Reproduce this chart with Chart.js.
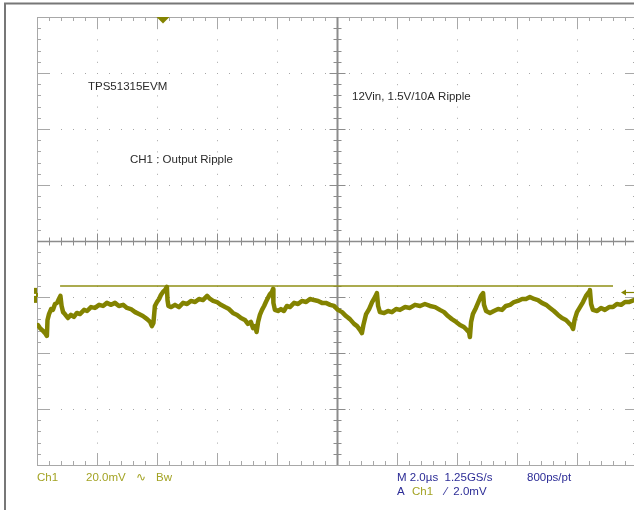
<!DOCTYPE html>
<html>
<head>
<meta charset="utf-8">
<title>TPS51315EVM output ripple</title>
<script src="https://cdn.jsdelivr.net/npm/chart.js@4/dist/chart.umd.min.js"></script>
<style>
  body { margin: 0; background: #fff; }
  #wrap { width: 634px; height: 510px; overflow: hidden; }
</style>
</head>
<body>
<div id="wrap"><canvas id="scope" width="634" height="510"></canvas></div>
<script>
// horizontal: 2.0 us/div, vertical: 20.0 mV/div, 10 x 8 divisions
const timeDivs = [0, 2, 4, 6, 8, 10, 12, 14, 16, 18, 20];
const voltDivs = [-80, -60, -40, -20, 0, 20, 40, 60, 80];

// CH1 output ripple (time in us, level in mV)
const timeUs = [
  0.03, 0.10, 0.20, 0.27, 0.33, 0.35, 0.40, 0.47, 0.53, 0.60, 0.67, 0.73, 0.78, 0.82, 0.87, 0.93,
  1.03, 1.13, 1.23, 1.33, 1.43, 1.57, 1.67, 1.80, 1.93, 2.07, 2.20, 2.33, 2.47, 2.60, 2.73, 2.87,
  3.00, 3.13, 3.27, 3.40, 3.53, 3.67, 3.77, 3.83, 3.88, 3.93, 4.00, 4.07, 4.13, 4.20, 4.27, 4.33,
  4.35, 4.38, 4.47, 4.60, 4.73, 4.87, 5.00, 5.13, 5.27, 5.40, 5.53, 5.67, 5.77, 5.87, 6.00, 6.13,
  6.27, 6.40, 6.53, 6.67, 6.80, 6.93, 7.03, 7.13, 7.20, 7.27, 7.32, 7.37, 7.43, 7.50, 7.57, 7.63,
  7.70, 7.77, 7.83, 7.87, 7.88, 7.93, 8.03, 8.13, 8.23, 8.33, 8.43, 8.57, 8.70, 8.83, 8.97, 9.10,
  9.23, 9.37, 9.50, 9.63, 9.77, 9.90, 10.03, 10.17, 10.30, 10.43, 10.57, 10.67, 10.77, 10.83, 10.88, 10.97,
  11.07, 11.17, 11.27, 11.33, 11.37, 11.43, 11.57, 11.70, 11.83, 11.97, 12.10, 12.27, 12.43, 12.60, 12.77, 12.93,
  13.10, 13.27, 13.43, 13.57, 13.70, 13.83, 13.97, 14.10, 14.23, 14.33, 14.40, 14.43, 14.47, 14.53, 14.63, 14.73,
  14.80, 14.87, 14.90, 14.97, 15.10, 15.23, 15.37, 15.50, 15.63, 15.77, 15.90, 16.03, 16.17, 16.30, 16.43, 16.57,
  16.70, 16.83, 16.97, 17.10, 17.23, 17.37, 17.50, 17.63, 17.73, 17.80, 17.87, 17.92, 18.00, 18.10, 18.20, 18.30,
  18.40, 18.43, 18.47, 18.53, 18.67, 18.80, 18.93, 19.07, 19.20, 19.33, 19.47, 19.60, 19.73, 19.90
];
const rippleMv = [
  -30.0, -31.1, -32.1, -32.9, -33.9, -28.2, -26.1, -24.3, -24.6, -22.5, -22.1, -20.7, -19.6, -23.2, -25.4, -26.1,
  -27.5, -26.4, -27.1, -25.7, -26.1, -24.6, -25.0, -23.6, -23.9, -22.8, -23.2, -22.1, -22.8, -22.1, -23.2, -22.8,
  -23.9, -24.3, -25.4, -26.1, -26.8, -27.9, -28.9, -30.4, -29.3, -23.2, -21.8, -20.7, -19.3, -18.2, -17.5, -16.4,
  -21.1, -23.2, -23.6, -22.8, -23.6, -22.1, -22.5, -21.4, -21.8, -20.7, -21.1, -19.6, -20.7, -21.4, -21.8, -22.8,
  -23.6, -24.3, -25.7, -26.4, -27.5, -28.2, -29.6, -28.9, -31.1, -30.4, -32.5, -28.9, -26.4, -24.6, -23.2, -21.8,
  -20.3, -18.9, -18.2, -17.1, -22.1, -24.6, -25.0, -24.3, -25.0, -23.2, -23.6, -22.1, -22.5, -21.4, -21.8, -20.7,
  -21.1, -21.4, -22.1, -22.1, -22.8, -23.2, -24.6, -25.4, -26.8, -27.9, -29.6, -30.4, -31.8, -32.9, -30.0, -26.1,
  -24.3, -21.8, -20.0, -18.6, -23.2, -25.4, -25.7, -25.0, -25.4, -24.3, -24.6, -23.6, -23.9, -22.8, -23.2, -22.5,
  -23.2, -23.6, -24.6, -25.4, -26.8, -27.9, -28.9, -30.0, -30.7, -31.8, -32.5, -34.3, -28.9, -26.1, -23.9, -21.4,
  -19.6, -18.6, -22.8, -25.0, -25.7, -25.0, -24.3, -24.6, -23.2, -22.8, -21.8, -21.4, -20.7, -20.7, -20.0, -20.7,
  -21.1, -22.1, -22.8, -23.9, -25.0, -26.4, -27.5, -28.2, -29.3, -30.0, -31.4, -28.2, -25.4, -23.6, -21.8, -19.6,
  -18.2, -17.5, -22.5, -24.6, -25.0, -23.9, -24.6, -23.6, -23.6, -22.5, -22.8, -21.8, -21.8, -21.1
];

// horizontal cursor across the trace
const cursorTime = [0.77, 19.2];
const cursorMv = [-16.1, -16.1];

const triggerPosUs = 4.2;
const triggerLevelMv = -18.2;
const groundMv = -19.6;

const olive = '#838300';

const graticule = {
  id: 'graticule',
  beforeDraw(chart) {
    const ctx = chart.ctx;
    ctx.save();
    ctx.fillStyle = '#fff';
    ctx.fillRect(0, 0, chart.width, chart.height);
    // outer frame
    ctx.strokeStyle = '#777';
    ctx.lineWidth = 2;
    ctx.beginPath();
    ctx.moveTo(5, chart.height);
    ctx.lineTo(5, 3.5);
    ctx.lineTo(chart.width, 3.5);
    ctx.stroke();
    ctx.restore();
  },
  beforeDatasetsDraw(chart) {
    const ctx = chart.ctx;
    const x = chart.scales.x, y = chart.scales.y;
    const left = x.getPixelForValue(0), right = x.getPixelForValue(20);
    const top = y.getPixelForValue(80), bottom = y.getPixelForValue(-80);
    const cx = Math.round(x.getPixelForValue(10)) + 0.5;
    const cy = Math.round(y.getPixelForValue(0)) + 0.5;
    ctx.save();

    // edges
    ctx.strokeStyle = '#a8a8a8';
    ctx.lineWidth = 1;
    ctx.beginPath();
    ctx.moveTo(Math.round(left) + 0.5, top); ctx.lineTo(Math.round(left) + 0.5, bottom);
    ctx.moveTo(left, Math.round(top) + 0.5); ctx.lineTo(right, Math.round(top) + 0.5);
    ctx.moveTo(left, Math.round(bottom) + 0.5); ctx.lineTo(right, Math.round(bottom) + 0.5);
    ctx.stroke();

    // ticks along the edges
    ctx.beginPath();
    for (let i = 1; i < 50; i++) {
      const px = Math.round(x.getPixelForValue(i * 0.4)) + 0.5;
      const len = i % 5 === 0 ? 12 : 4;
      ctx.moveTo(px, top); ctx.lineTo(px, top + len);
      ctx.moveTo(px, bottom); ctx.lineTo(px, bottom - len);
    }
    for (let i = 1; i < 40; i++) {
      const py = Math.round(y.getPixelForValue(-80 + i * 4)) + 0.5;
      const len = i % 5 === 0 ? 12 : 4;
      ctx.moveTo(left, py); ctx.lineTo(left + len, py);
      ctx.moveTo(right, py); ctx.lineTo(right - len, py);
    }
    ctx.stroke();

    // centre cross with minor ticks
    ctx.strokeStyle = '#8c8c8c';
    ctx.lineWidth = 1;
    ctx.beginPath();
    for (let i = 1; i < 50; i++) {
      const px = Math.round(x.getPixelForValue(i * 0.4)) + 0.5;
      const len = i % 5 === 0 ? 8 : 4;
      ctx.moveTo(px, cy - len); ctx.lineTo(px, cy + len);
    }
    for (let i = 1; i < 40; i++) {
      const py = Math.round(y.getPixelForValue(-80 + i * 4)) + 0.5;
      const len = i % 5 === 0 ? 8 : 4;
      ctx.moveTo(cx - len, py); ctx.lineTo(cx + len, py);
    }
    ctx.stroke();
    ctx.lineWidth = 1.5;
    ctx.beginPath();
    ctx.moveTo(left, cy); ctx.lineTo(right, cy);
    ctx.stroke();
    ctx.lineWidth = 2;
    ctx.beginPath();
    ctx.moveTo(cx, top); ctx.lineTo(cx, bottom);
    ctx.stroke();
    ctx.restore();
  },
  afterDraw(chart) {
    const ctx = chart.ctx;
    const x = chart.scales.x, y = chart.scales.y;
    const left = x.getPixelForValue(0), right = chart.chartArea.right;
    const top = y.getPixelForValue(80);
    ctx.save();
    ctx.fillStyle = olive;

    // trigger position marker
    const tx = x.getPixelForValue(triggerPosUs);
    ctx.beginPath();
    ctx.moveTo(tx - 6.5, top);
    ctx.lineTo(tx + 6.5, top);
    ctx.lineTo(tx, top + 6.5);
    ctx.closePath();
    ctx.fill();

    // channel 1 ground marker
    const gy = y.getPixelForValue(groundMv);
    ctx.fillRect(left - 3, gy - 8, 3, 6);
    ctx.fillRect(left - 3, gy + 0, 3, 7);
    ctx.fillRect(left - 1, gy - 3, 2, 4);

    // trigger level arrow
    const ly = Math.round(y.getPixelForValue(triggerLevelMv)) + 0.5;
    ctx.strokeStyle = olive;
    ctx.lineWidth = 1.2;
    ctx.beginPath();
    ctx.moveTo(right - 10, ly); ctx.lineTo(right, ly);
    ctx.stroke();
    ctx.beginPath();
    ctx.moveTo(right - 13, ly);
    ctx.lineTo(right - 8, ly - 3);
    ctx.lineTo(right - 8, ly + 3);
    ctx.closePath();
    ctx.fill();

    // annotations
    ctx.textBaseline = 'middle';
    ctx.font = '11.5px "Liberation Sans", Arial, sans-serif';
    ctx.fillStyle = '#2a2a2a';
    ctx.fillText('TPS51315EVM', 88, 87);
    ctx.fillText('12Vin, 1.5V/10A Ripple', 352, 97);
    ctx.fillText('CH1 : Output Ripple', 130, 160);

    // readouts
    ctx.fillStyle = '#a3a324';
    ctx.fillText('Ch1', 37, 478);
    ctx.fillText('20.0mV', 86, 478);
    ctx.fillText('\u223f', 136, 478);
    ctx.fillText('Bw', 156, 478);
    ctx.fillText('Ch1', 412, 492);
    ctx.fillStyle = '#2c2c96';
    ctx.fillText('M 2.0\u00b5s  1.25GS/s', 397, 478);
    ctx.fillText('800ps/pt', 527, 478);
    ctx.fillText('A', 397, 492);
    ctx.fillText('\u2215  2.0mV', 445, 492);
    ctx.restore();
  }
};

new Chart(document.getElementById('scope'), {
  type: 'line',
  data: {
    datasets: [
      {
        data: timeUs.map((t, i) => ({ x: t, y: rippleMv[i] })),
        borderColor: olive,
        borderWidth: 4.5,
        borderJoinStyle: 'round',
        borderCapStyle: 'round',
        pointRadius: 0,
        tension: 0
      },
      {
        data: cursorTime.map((t, i) => ({ x: t, y: cursorMv[i] })),
        borderColor: '#8f8f14',
        borderWidth: 1.5,
        pointRadius: 0
      }
    ]
  },
  options: {
    responsive: false,
    animation: false,
    events: [],
    layout: { padding: { left: 37, top: 17, right: 0, bottom: 45 } },
    plugins: { legend: { display: false }, tooltip: { enabled: false } },
    scales: {
      x: {
        type: 'linear',
        min: 0,
        max: 19.9,
        afterBuildTicks: s => { s.ticks = timeDivs.filter(v => v <= 19.9).map(v => ({ value: v })); },
        ticks: { display: false },
        grid: { color: '#a6a6a6', lineWidth: 1, drawTicks: false },
        border: { display: false, dash: [1, 10.2] }
      },
      y: {
        type: 'linear',
        min: -80,
        max: 80,
        afterBuildTicks: s => { s.ticks = voltDivs.map(v => ({ value: v })); },
        ticks: { display: false },
        grid: { color: '#a6a6a6', lineWidth: 1, drawTicks: false },
        border: { display: false, dash: [1, 11] }
      }
    }
  },
  plugins: [graticule]
});
</script>
</body>
</html>
